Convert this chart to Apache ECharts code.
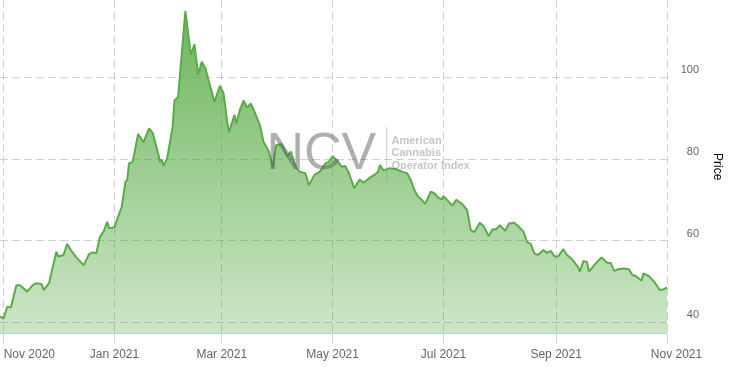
<!DOCTYPE html>
<html>
<head>
<meta charset="utf-8">
<script src="https://cdn.jsdelivr.net/npm/echarts@6/dist/echarts.min.js"></script>
<style>
html,body{margin:0;padding:0;background:#fff;}
#chart{width:731px;height:367px;}
</style>
</head>
<body>
<div id="chart"></div>
<script>
const dates = [
'2020-10-30','2020-11-01','2020-11-03','2020-11-05','2020-11-08','2020-11-10','2020-11-14','2020-11-15','2020-11-17','2020-11-19',
'2020-11-22','2020-11-23','2020-11-26','2020-11-30','2020-12-01','2020-12-04','2020-12-06','2020-12-08','2020-12-11','2020-12-12',
'2020-12-15','2020-12-16','2020-12-18','2020-12-20','2020-12-22','2020-12-24','2020-12-26','2020-12-28','2020-12-29','2021-01-01',
'2021-01-03','2021-01-05','2021-01-07','2021-01-08','2021-01-09','2021-01-11','2021-01-14','2021-01-17','2021-01-20','2021-01-22',
'2021-01-25','2021-01-26','2021-01-27','2021-01-28','2021-01-30','2021-02-02','2021-02-03','2021-02-05','2021-02-09','2021-02-12',
'2021-02-14','2021-02-16','2021-02-18','2021-02-20','2021-02-22','2021-02-23','2021-02-25','2021-02-28','2021-03-02','2021-03-04',
'2021-03-05','2021-03-06','2021-03-08','2021-03-09','2021-03-11','2021-03-13','2021-03-15','2021-03-17','2021-03-19','2021-03-22',
'2021-03-24','2021-03-27','2021-03-29','2021-03-31','2021-04-03','2021-04-05','2021-04-06','2021-04-08','2021-04-11','2021-04-13',
'2021-04-16','2021-04-18','2021-04-21','2021-04-24','2021-04-27','2021-04-29','2021-05-01','2021-05-04','2021-05-06','2021-05-08',
'2021-05-10','2021-05-13','2021-05-15','2021-05-16','2021-05-18','2021-05-21','2021-05-24','2021-05-26','2021-05-27','2021-05-29',
'2021-06-01','2021-06-05','2021-06-08','2021-06-11','2021-06-13','2021-06-15','2021-06-17','2021-06-19','2021-06-21','2021-06-24',
'2021-06-26','2021-06-28','2021-06-30','2021-07-01','2021-07-04','2021-07-06','2021-07-08','2021-07-11','2021-07-14','2021-07-16',
'2021-07-18','2021-07-21','2021-07-23','2021-07-26','2021-07-28','2021-07-30','2021-08-01','2021-08-04','2021-08-06','2021-08-09',
'2021-08-11','2021-08-14','2021-08-16','2021-08-18','2021-08-20','2021-08-22','2021-08-25','2021-08-27','2021-08-29','2021-08-31',
'2021-09-02','2021-09-05','2021-09-07','2021-09-10','2021-09-13','2021-09-14','2021-09-16','2021-09-18','2021-09-19','2021-09-22',
'2021-09-24','2021-09-26','2021-09-29','2021-10-01','2021-10-03','2021-10-05','2021-10-08','2021-10-09','2021-10-11','2021-10-13',
'2021-10-15','2021-10-18','2021-10-19','2021-10-22','2021-10-25','2021-10-28','2021-10-30','2021-11-01'
];
const prices = [
41.4,41.0,43.8,43.6,49.1,49.1,47.5,47.9,49.1,49.6,
49.3,47.9,49.6,57.3,56.1,56.5,59.2,57.7,55.9,55.8,
54.0,54.8,56.7,57.1,56.9,61.0,62.2,64.6,63.0,63.3,
65.9,68.3,74.4,74.9,78.9,79.3,86.1,84.1,87.5,86.4,
81.4,79.3,79.8,78.3,80.2,87.9,94.3,95.2,116.2,105.5,
108.1,100.6,103.8,102.2,98.9,99.1,94.0,97.9,96.1,89.1,
86.5,86.3,90.8,88.7,92.0,94.3,92.6,93.6,91.6,88.3,
84.2,81.8,77.9,83.4,83.6,81.8,80.6,81.8,77.7,76.9,
76.5,73.6,76.1,76.9,78.9,79.3,80.7,79.3,78.1,78.3,
76.5,72.8,74.4,75.0,74.2,75.3,76.1,76.8,78.5,77.2,
77.7,77.5,76.9,76.5,74.9,72.4,70.8,70.0,69.0,72.0,
71.6,70.6,70.1,70.9,69.5,68.6,70.0,69.1,67.5,62.6,
62.1,64.4,63.6,61.1,62.8,62.8,63.8,62.4,64.2,64.4,
63.6,62.2,59.7,59.2,56.9,56.5,57.7,57.0,57.5,56.2,
56.1,57.9,56.5,55.3,53.6,52.4,55.0,54.8,52.4,54.0,
55.0,55.9,54.6,54.5,52.6,53.0,53.2,52.8,53.0,51.6,
51.3,50.2,52.0,51.3,49.9,47.9,48.1,48.5
];
const xTickDates = ['2020-11-01','2021-01-01','2021-03-01','2021-05-01','2021-07-01','2021-09-01','2021-11-01'];
const yTicks = [40, 60, 80, 100];
const monthNames = ['Jan','Feb','Mar','Apr','May','Jun','Jul','Aug','Sep','Oct','Nov','Dec'];

function toTime(s) {
  const p = s.split('-').map(Number);
  return new Date(p[0], p[1] - 1, p[2]).getTime();
}
const xTicks = xTickDates.map(toTime);
const lastTick = xTicks[xTicks.length - 1];
const seriesData = dates.map((d, i) => [toTime(d), prices[i]]);

const chart = echarts.init(document.getElementById('chart'), null, {renderer: 'canvas'});
const FONT = '"Liberation Sans", Arial, Helvetica, sans-serif';
const gridStyle = {color: '#cfcfcf', width: 1, type: [8, 4]};

chart.setOption({
  animation: false,
  textStyle: {fontFamily: FONT},
  grid: {left: 0, right: 59, top: 0, bottom: 33.5},
  xAxis: {
    type: 'value',
    min: toTime('2020-10-30'),
    max: toTime('2021-11-01'),
    axisLine: {show: true, lineStyle: {color: '#ccd6eb', width: 1}},
    axisTick: {show: true, customValues: xTicks, length: 10, lineStyle: {color: '#ccd6eb'}},
    axisLabel: {
      customValues: xTicks,
      color: '#666666',
      fontSize: 12,
      fontFamily: FONT,
      margin: 15.5,
      alignMinLabel: 'left',
      alignMaxLabel: 'center',
      hideOverlap: false,
      formatter: function (v) {
        const d = new Date(v);
        const t = monthNames[d.getMonth()] + ' ' + d.getFullYear();
        return v === lastTick ? '{last|' + t + '}' : t;
      },
      rich: {
        last: {color: '#666666', fontSize: 12, fontFamily: FONT, padding: [0, 0, 0, 19]}
      }
    },
    splitLine: {show: true, lineStyle: gridStyle}
  },
  yAxis: {
    type: 'value',
    position: 'right',
    min: 37.26,
    max: 118.93,
    axisLine: {show: false},
    axisTick: {show: false, customValues: yTicks},
    axisLabel: {
      customValues: yTicks,
      align: 'right',
      verticalAlign: 'bottom',
      lineHeight: 14,
      margin: 32,
      color: '#666666',
      fontSize: 11,
      fontFamily: FONT
    },
    splitLine: {show: true, lineStyle: gridStyle},
    name: 'Price',
    nameLocation: 'middle',
    nameGap: 44,
    nameRotate: -90,
    nameTextStyle: {color: '#000000', fontSize: 12, fontFamily: FONT}
  },
  series: [{
    type: 'line',
    data: seriesData,
    symbol: 'none',
    smooth: false,
    lineStyle: {color: '#5aac47', width: 2},
    areaStyle: {
      opacity: 1,
      color: new echarts.graphic.LinearGradient(0, 0, 0, 1, [
        {offset: 0, color: 'rgba(90,172,71,0.88)'},
        {offset: 1, color: 'rgba(90,172,71,0.3)'}
      ])
    },
    z: 2
  }],
  graphic: [
    {type: 'text', x: 266.5, y: 154.5, z: 100, silent: true,
     style: {text: 'NCV', font: '52px ' + FONT, fill: 'rgba(95,95,95,0.5)', verticalAlign: 'middle', textAlign: 'left'}},
    {type: 'line', z: 100, silent: true,
     shape: {x1: 386.7, y1: 127, x2: 386.7, y2: 182},
     style: {stroke: 'rgba(140,140,140,0.45)', lineWidth: 1}},
    {type: 'text', x: 391.5, y: 141, z: 100, silent: true,
     style: {text: 'American', font: 'bold 11px ' + FONT, fill: 'rgba(120,120,120,0.42)', verticalAlign: 'middle', textAlign: 'left'}},
    {type: 'text', x: 391.5, y: 153.3, z: 100, silent: true,
     style: {text: 'Cannabis', font: 'bold 11px ' + FONT, fill: 'rgba(120,120,120,0.42)', verticalAlign: 'middle', textAlign: 'left'}},
    {type: 'text', x: 391.5, y: 165.6, z: 100, silent: true,
     style: {text: 'Operator Index', font: 'bold 11px ' + FONT, fill: 'rgba(120,120,120,0.42)', verticalAlign: 'middle', textAlign: 'left'}}
  ]
});
</script>
</body>
</html>
